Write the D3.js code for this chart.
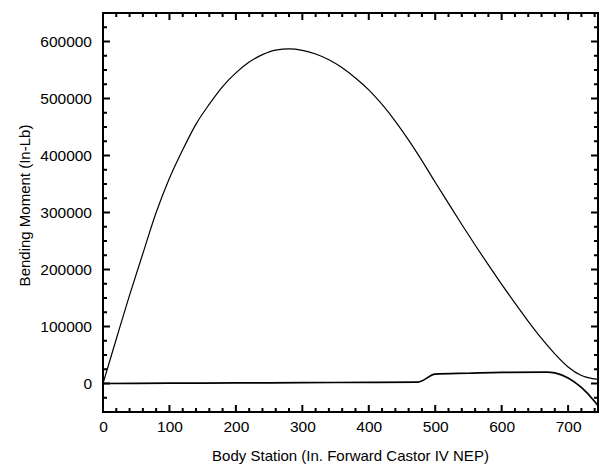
<!DOCTYPE html>
<html>
<head>
<meta charset="utf-8">
<script src="https://cdn.jsdelivr.net/npm/d3@7"></script>
<style>
  body { margin: 0; background: #fff; }
  svg { display: block; }
  text { font-family: "Liberation Sans", Arial, sans-serif; fill: #000; }
</style>
</head>
<body>
<svg id="chart"></svg>
<script>
// Body station (in.) for each curve
const upperStations = [0, 20, 40, 60, 80, 100, 120, 140, 160, 180, 200, 220, 240, 260, 280,
  300, 320, 340, 360, 380, 400, 420, 440, 460, 480, 500, 520, 540, 560, 580, 600,
  620, 640, 660, 680, 700, 720, 740, 745];
const upperMoment = [0, 78000, 155000, 228000, 300000, 360000, 410000, 455000, 490000, 521000,
  545000, 564000, 577000, 585000, 587000, 584500, 578000, 568000, 554000, 536000, 515000,
  489500, 460000, 427000, 391000, 353000, 316000, 279000, 243000, 208000, 174000,
  141000, 109000, 79000, 52000, 29000, 14000, 8000, 7000];

const lowerStations = [0, 100, 200, 300, 400, 474, 500, 550, 600, 668, 680, 700, 720, 740, 745];
const lowerMoment = [0, 500, 1000, 1500, 2000, 2500, 16500, 18000, 19500, 20000, 18500, 9800, -6900, -31600, -39000];

const xMajorTicks = [0, 100, 200, 300, 400, 500, 600, 700];
const yMajorTicks = [0, 100000, 200000, 300000, 400000, 500000, 600000];

const xTitle = 'Body Station (In. Forward Castor IV NEP)';
const yTitle = 'Bending Moment (In-Lb)';

// Set up dimensions
const W = 600, H = 466;
const margin = { top: 13, right: 2, bottom: 54, left: 103 };
const width = W - margin.left - margin.right;
const height = H - margin.top - margin.bottom;

const svg = d3.select('#chart')
  .attr('width', W)
  .attr('height', H);

const g = svg.append('g')
  .attr('transform', `translate(${margin.left},${margin.top})`);

const x = d3.scaleLinear().domain([0, 745]).range([0, width]);
const y = d3.scaleLinear().domain([-50000, 650000]).range([height, 0]);

const xMinor = d3.range(0, 745, 20).filter(v => v % 100 !== 0);
const yMinor = d3.range(-50000, 650001, 25000).filter(v => v % 100000 !== 0);

// Tick labels from d3 axes
function styleAxis(sel) {
  sel.select('.domain').remove();
  sel.selectAll('.tick line').remove();
  sel.selectAll('text').style('font-size', '15.5px');
}

g.append('g')
  .attr('transform', `translate(0,${height})`)
  .call(d3.axisBottom(x).tickValues(xMajorTicks).tickSize(0).tickPadding(9))
  .call(styleAxis);

g.append('g')
  .call(d3.axisLeft(y).tickValues(yMajorTicks).tickSize(0).tickPadding(11).tickFormat(d3.format('d')))
  .call(styleAxis);

// Frame and inward ticks as one path
const p = d3.path();
p.rect(0, 0, width, height);
const addX = (v, len) => {
  p.moveTo(x(v), height); p.lineTo(x(v), height - len);
  p.moveTo(x(v), 0); p.lineTo(x(v), len);
};
const addY = (v, len) => {
  p.moveTo(0, y(v)); p.lineTo(len, y(v));
  p.moveTo(width, y(v)); p.lineTo(width - len, y(v));
};
xMajorTicks.forEach(v => addX(v, 7));
xMinor.forEach(v => addX(v, 4));
yMajorTicks.forEach(v => addY(v, 7));
yMinor.forEach(v => addY(v, 4));

g.append('path')
  .attr('d', p.toString())
  .attr('fill', 'none')
  .attr('stroke', '#000')
  .attr('stroke-width', 2);

// Curves
const upper = upperStations.map((s, i) => [s, upperMoment[i]]);
const lower = lowerStations.map((s, i) => [s, lowerMoment[i]]);

const line = d3.line()
  .x(d => x(d[0]))
  .y(d => y(d[1]))
  .curve(d3.curveMonotoneX);

g.append('path')
  .datum(upper)
  .attr('fill', 'none')
  .attr('stroke', '#000')
  .attr('stroke-width', 1.2)
  .attr('d', line);

g.append('path')
  .datum(lower)
  .attr('fill', 'none')
  .attr('stroke', '#000')
  .attr('stroke-width', 1.7)
  .attr('d', line);

// Axis titles
svg.append('text')
  .attr('x', margin.left + width / 2)
  .attr('y', 461)
  .attr('text-anchor', 'middle')
  .style('font-size', '15px')
  .text(xTitle);

svg.append('text')
  .attr('transform', `translate(30,${margin.top + height / 2 - 7}) rotate(-90)`)
  .attr('text-anchor', 'middle')
  .style('font-size', '15px')
  .text(yTitle);
</script>
</body>
</html>
